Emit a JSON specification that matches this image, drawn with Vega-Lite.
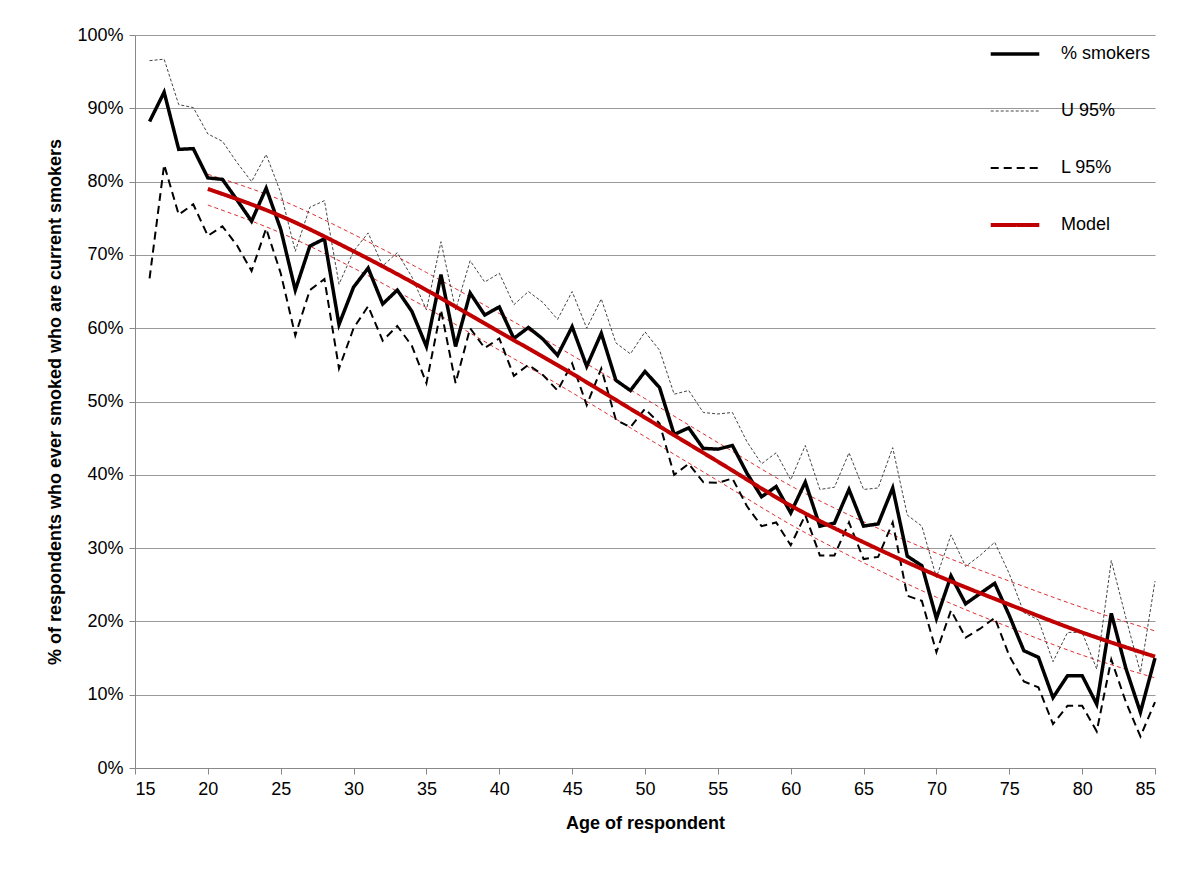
{
  "$schema": "https://vega.github.io/schema/vega-lite/v6.json",
  "width": 1020,
  "height": 733,
  "autosize": "none",
  "padding": {"left": 135, "top": 35, "right": 48, "bottom": 112},
  "background": "white",
  "config": {
    "font": "Liberation Sans",
    "view": {"stroke": null},
    "axis": {"labelFontSize": 18, "titleFontSize": 18, "titleFontWeight": "bold", "labelColor": "#000", "titleColor": "#000", "domainColor": "#888", "tickColor": "#888", "gridColor": "#999"}
  },
  "datasets": {
    "obs": [
      {"age":16,"% smokers":88.2,"U 95%":96.5,"L 95%":66.8},
      {"age":17,"% smokers":92.2,"U 95%":96.7,"L 95%":82.3},
      {"age":18,"% smokers":84.4,"U 95%":90.5,"L 95%":75.5},
      {"age":19,"% smokers":84.5,"U 95%":90.1,"L 95%":76.9},
      {"age":20,"% smokers":80.5,"U 95%":86.5,"L 95%":72.6,"Model":79.0,"mu":81.0,"ml":76.8},
      {"age":21,"% smokers":80.3,"U 95%":85.5,"L 95%":73.9},
      {"age":22,"% smokers":77.5,"U 95%":82.6,"L 95%":71.3},
      {"age":23,"% smokers":74.6,"U 95%":80.0,"L 95%":67.8},
      {"age":24,"% smokers":79.1,"U 95%":83.7,"L 95%":73.6},
      {"age":25,"% smokers":73.5,"U 95%":78.5,"L 95%":67.5,"Model":75.3,"mu":77.5,"ml":73.0},
      {"age":26,"% smokers":65.2,"U 95%":70.5,"L 95%":59.0},
      {"age":27,"% smokers":71.2,"U 95%":76.5,"L 95%":65.2},
      {"age":28,"% smokers":72.2,"U 95%":77.4,"L 95%":66.7},
      {"age":29,"% smokers":60.5,"U 95%":66.0,"L 95%":54.5},
      {"age":30,"% smokers":65.6,"U 95%":70.5,"L 95%":60.0,"Model":70.5,"mu":72.8,"ml":68.2},
      {"age":31,"% smokers":68.2,"U 95%":73.0,"L 95%":63.0},
      {"age":32,"% smokers":63.3,"U 95%":68.5,"L 95%":58.3},
      {"age":33,"% smokers":65.2,"U 95%":70.3,"L 95%":60.3},
      {"age":34,"% smokers":62.3,"U 95%":67.0,"L 95%":57.6},
      {"age":35,"% smokers":57.5,"U 95%":62.5,"L 95%":52.5,"Model":65.2,"mu":67.6,"ml":62.8},
      {"age":36,"% smokers":67.3,"U 95%":71.8,"L 95%":62.5},
      {"age":37,"% smokers":57.5,"U 95%":62.5,"L 95%":52.5},
      {"age":38,"% smokers":64.8,"U 95%":69.2,"L 95%":60.0},
      {"age":39,"% smokers":61.8,"U 95%":66.3,"L 95%":57.3},
      {"age":40,"% smokers":62.9,"U 95%":67.5,"L 95%":58.6,"Model":59.5,"mu":62.0,"ml":57.0},
      {"age":41,"% smokers":58.6,"U 95%":63.2,"L 95%":53.5},
      {"age":42,"% smokers":60.1,"U 95%":65.0,"L 95%":55.0},
      {"age":43,"% smokers":58.5,"U 95%":63.5,"L 95%":53.6},
      {"age":44,"% smokers":56.3,"U 95%":61.2,"L 95%":51.5},
      {"age":45,"% smokers":60.2,"U 95%":65.0,"L 95%":55.2,"Model":53.8,"mu":56.3,"ml":51.2},
      {"age":46,"% smokers":54.8,"U 95%":60.0,"L 95%":49.5},
      {"age":47,"% smokers":59.3,"U 95%":64.0,"L 95%":54.5},
      {"age":48,"% smokers":52.9,"U 95%":58.0,"L 95%":47.5},
      {"age":49,"% smokers":51.5,"U 95%":56.5,"L 95%":46.5},
      {"age":50,"% smokers":54.1,"U 95%":59.5,"L 95%":49.0,"Model":47.8,"mu":50.4,"ml":45.2},
      {"age":51,"% smokers":51.9,"U 95%":57.0,"L 95%":47.0},
      {"age":52,"% smokers":45.5,"U 95%":51.0,"L 95%":40.0},
      {"age":53,"% smokers":46.4,"U 95%":51.5,"L 95%":41.5},
      {"age":54,"% smokers":43.6,"U 95%":48.5,"L 95%":39.0},
      {"age":55,"% smokers":43.5,"U 95%":48.3,"L 95%":38.9,"Model":41.8,"mu":44.4,"ml":39.2},
      {"age":56,"% smokers":44.0,"U 95%":48.5,"L 95%":39.5},
      {"age":57,"% smokers":40.2,"U 95%":44.5,"L 95%":35.7},
      {"age":58,"% smokers":37.0,"U 95%":41.5,"L 95%":33.0},
      {"age":59,"% smokers":38.4,"U 95%":43.0,"L 95%":33.5},
      {"age":60,"% smokers":34.8,"U 95%":39.3,"L 95%":30.4,"Model":35.8,"mu":38.5,"ml":33.2},
      {"age":61,"% smokers":39.0,"U 95%":44.0,"L 95%":34.5},
      {"age":62,"% smokers":33.0,"U 95%":38.0,"L 95%":29.0},
      {"age":63,"% smokers":33.4,"U 95%":38.3,"L 95%":29.0},
      {"age":64,"% smokers":38.0,"U 95%":43.0,"L 95%":33.5},
      {"age":65,"% smokers":33.0,"U 95%":38.0,"L 95%":28.5,"Model":30.8,"mu":33.6,"ml":28.0},
      {"age":66,"% smokers":33.3,"U 95%":38.2,"L 95%":28.8},
      {"age":67,"% smokers":38.2,"U 95%":43.7,"L 95%":33.5},
      {"age":68,"% smokers":28.9,"U 95%":34.5,"L 95%":23.5},
      {"age":69,"% smokers":27.6,"U 95%":33.0,"L 95%":22.8},
      {"age":70,"% smokers":20.4,"U 95%":26.0,"L 95%":15.8,"Model":26.3,"mu":29.3,"ml":23.3},
      {"age":71,"% smokers":26.2,"U 95%":31.8,"L 95%":21.5},
      {"age":72,"% smokers":22.4,"U 95%":27.5,"L 95%":17.8},
      {"age":73,"% smokers":23.8,"U 95%":29.0,"L 95%":19.0},
      {"age":74,"% smokers":25.2,"U 95%":30.8,"L 95%":20.5},
      {"age":75,"% smokers":20.8,"U 95%":26.5,"L 95%":15.3,"Model":22.3,"mu":25.5,"ml":19.2},
      {"age":76,"% smokers":16.0,"U 95%":21.2,"L 95%":11.8},
      {"age":77,"% smokers":15.1,"U 95%":20.2,"L 95%":11.0},
      {"age":78,"% smokers":9.6,"U 95%":14.5,"L 95%":6.0},
      {"age":79,"% smokers":12.6,"U 95%":18.5,"L 95%":8.5},
      {"age":80,"% smokers":12.6,"U 95%":18.5,"L 95%":8.5,"Model":18.5,"mu":21.9,"ml":15.4},
      {"age":81,"% smokers":8.7,"U 95%":13.5,"L 95%":5.0},
      {"age":82,"% smokers":21.1,"U 95%":28.3,"L 95%":14.8},
      {"age":83,"% smokers":13.6,"U 95%":20.5,"L 95%":9.0},
      {"age":84,"% smokers":7.6,"U 95%":13.0,"L 95%":4.3},
      {"age":85,"% smokers":15.0,"U 95%":25.5,"L 95%":9.0,"Model":15.2,"mu":18.7,"ml":12.3}
    ]
  },
  "data": {"name": "obs"},
  "encoding": {
    "x": {
      "field": "age", "type": "quantitative",
      "scale": {"domain": [15, 85], "nice": false, "zero": false},
      "axis": {"values": [15,20,25,30,35,40,45,50,55,60,65,70,75,80,85], "grid": false, "tickSize": 6, "labelPadding": 6, "title": "Age of respondent", "titlePadding": 16}
    },
    "y": {
      "field": "v", "type": "quantitative",
      "scale": {"domain": [0, 100]},
      "axis": {"values": [0,10,20,30,40,50,60,70,80,90,100], "labelExpr": "datum.value + '%'", "tickSize": 6, "labelPadding": 6, "title": "% of respondents who ever smoked who are current smokers", "titlePadding": 12}
    }
  },
  "layer": [
    {
      "transform": [
        {"fold": ["mu", "ml"], "as": ["band", "v"]},
        {"filter": "isValid(datum.v)"}
      ],
      "mark": {"type": "line", "color": "#e03030", "strokeWidth": 1, "strokeDash": [4, 3], "interpolate": "monotone"},
      "encoding": {"detail": {"field": "band"}}
    },
    {
      "transform": [
        {"fold": ["L 95%", "U 95%", "% smokers"], "as": ["series", "v"]},
        {"filter": "isValid(datum.v)"}
      ],
      "mark": {"type": "line"},
      "encoding": {
        "detail": {"field": "series"},
        "color": {
          "condition": {"test": "datum.series === 'U 95%'", "value": "#444444"},
          "value": "#000000"
        },
        "strokeWidth": {
          "condition": [
            {"test": "datum.series === '% smokers'", "value": 3.5},
            {"test": "datum.series === 'U 95%'", "value": 1}
          ],
          "value": 2
        },
        "strokeDash": {
          "condition": [
            {"test": "datum.series === 'U 95%'", "value": [3, 2]},
            {"test": "datum.series === 'L 95%'", "value": [8, 5]}
          ],
          "value": [1, 0]
        }
      }
    },
    {
      "transform": [
        {"fold": ["Model"], "as": ["series", "v"]},
        {"filter": "isValid(datum.v)"}
      ],
      "mark": {"type": "line", "strokeWidth": 4, "interpolate": "monotone"},
      "encoding": {
        "color": {
          "field": "series", "type": "nominal",
          "scale": {"domain": ["% smokers", "U 95%", "L 95%", "Model"], "range": ["#000000", "#444444", "#000000", "#c00000"]},
          "legend": {
            "orient": "none", "legendX": 871, "legendY": 10, "title": null,
            "symbolType": "stroke", "symbolSize": 2360, "symbolStrokeWidth": 3, "labelFontSize": 18, "labelColor": "#000",
            "rowPadding": 39, "labelOffset": 37,
            "encode": {
              "symbols": {
                "update": {
                  "strokeWidth": {"signal": "datum.value === '% smokers' ? 3.5 : datum.value === 'Model' ? 4 : datum.value === 'U 95%' ? 1 : 2"}
                }
              }
            }
          }
        },
        "strokeDash": {
          "field": "series", "type": "nominal",
          "scale": {"domain": ["% smokers", "U 95%", "L 95%", "Model"], "range": [[1, 0], [3, 2], [8, 5], [1, 0]]}
        }
      }
    }
  ]
}
